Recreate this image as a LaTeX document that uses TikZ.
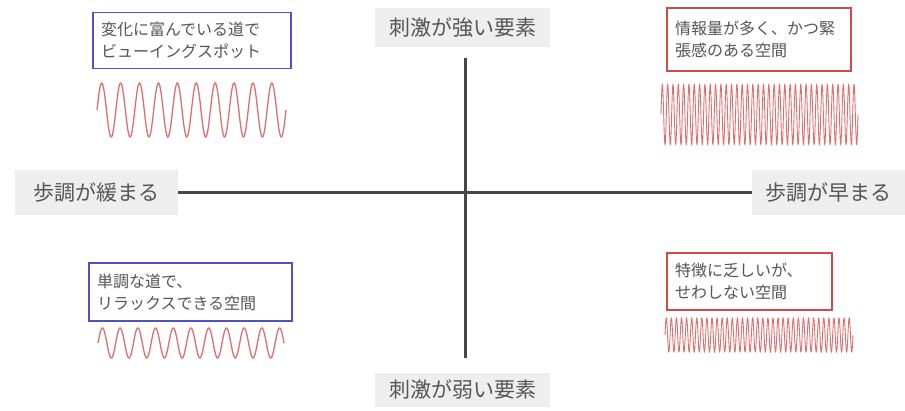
\documentclass[tikz,border=0pt]{standalone}
\usepackage{fontspec}
\setmainfont{Noto Sans CJK JP}
\usetikzlibrary{positioning}
\definecolor{axisgray}{RGB}{70,70,70}
\definecolor{labelbg}{RGB}{238,238,238}
\definecolor{textgray}{RGB}{85,85,85}
\definecolor{boxblue}{RGB}{80,80,205}
\definecolor{boxred}{RGB}{205,75,75}
\definecolor{wavered}{RGB}{225,110,110}

\tikzset{
  axislabel/.style={fill=labelbg, text=textgray, inner sep=0pt,
                    font=\fontsize{21}{24}\selectfont},
  notebox/.style={draw=#1, line width=1.2pt, fill=white, text=textgray,
                  font=\fontsize{16}{22}\selectfont, align=left, inner sep=8pt},
  axisline/.style={draw=axisgray, line width=3pt},
  wave/.style={draw=wavered, line width=1.3pt}
}

\begin{document}
\begin{tikzpicture}[x=1pt, y=-1pt]
  \useasboundingbox (0,0) rectangle (905,411);
  % axis labels
  \node[axislabel, minimum width=163, minimum height=45] (slow) at (96.5,192.5) {歩調が緩まる};
  \node[axislabel, minimum width=153, minimum height=45] (fast) at (828.5,192.5) {歩調が早まる};
  \node[axislabel, minimum width=175, minimum height=39] (strong) at (462.5,27.5) {刺激が強い要素};
  \node[axislabel, minimum width=175, minimum height=34] (weak) at (462.5,390) {刺激が弱い要素};
  % axes
  \coordinate (vtop) at (465,58);
  \coordinate (vbot) at (465,358);
  \draw[axisline] (slow.east) -- (fast.west);
  \draw[axisline] (vtop) -- (vbot);
  % notes
  \node[notebox=boxblue, minimum width=198, minimum height=56, text width=182] (varied) at (192,40.5)
    {変化に富んでいる道で\\ビューイングスポット};
  \node[notebox=boxred, minimum width=184, minimum height=63, text width=168] (dense) at (759,39.5)
    {情報量が多く、かつ緊\\張感のある空間};
  \node[notebox=boxblue, minimum width=203, minimum height=58, text width=187] (calm) at (190.5,292)
    {単調な道で、\\リラックスできる空間};
  \node[notebox=boxred, minimum width=165, minimum height=57, text width=149] (plain) at (749.5,281.5)
    {特徴に乏しいが、\\せわしない空間};
  % waves
  \draw[wave] plot[domain=0:3600, samples=300] ({97+\x/3600*189},{110-27*sin(\x)});
  \draw[wave, line width=0.9pt] plot[domain=0:13320, samples=1777] ({661+\x/13320*197},{114.5-30*sin(\x)});
  \draw[wave] plot[domain=0:3780, samples=300] ({98+\x/3780*186},{343-15*sin(\x)});
  \draw[wave, line width=0.9pt] plot[domain=0:13320, samples=1777] ({665+\x/13320*188},{335-17*sin(\x)});
\end{tikzpicture}
\end{document}
